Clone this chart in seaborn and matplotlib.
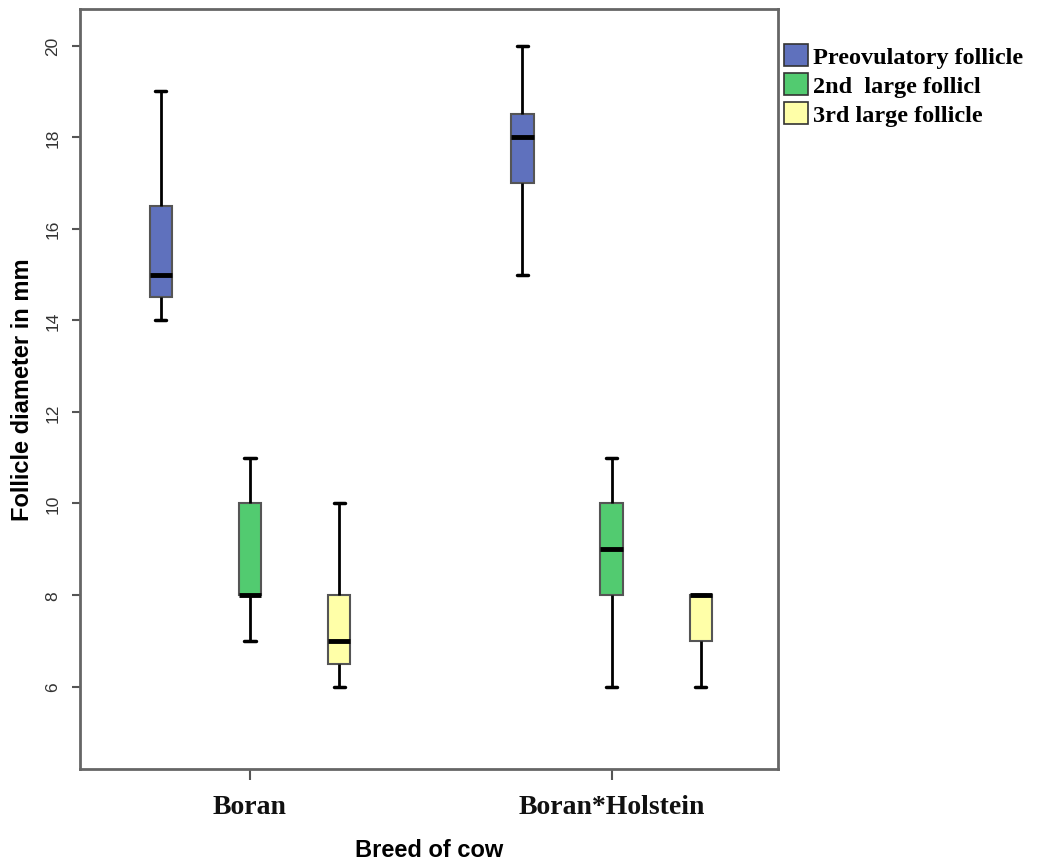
import matplotlib
matplotlib.use("Agg")
import matplotlib.pyplot as plt
import matplotlib.patches as mpatches
import pandas as pd
import seaborn as sns

# five-number values per box: min, q1, median, q3, max
breeds = ["Boran", "Boran*Holstein"]
follicles = ["Preovulatory follicle", "2nd  large follicl", "3rd large follicle"]
boran_pre = [14, 14.5, 15, 16.5, 19]
boran_2nd = [7, 8, 8, 10, 11]
boran_3rd = [6, 6.5, 7, 8, 10]
bh_pre = [15, 17, 18, 18.5, 20]
bh_2nd = [6, 8, 9, 10, 11]
bh_3rd = [6, 7, 8, 8, 8]
colors = ["#5f71bd", "#52cb70", "#ffffa8"]

rows = []
for breed, sets in zip(breeds, [[boran_pre, boran_2nd, boran_3rd], [bh_pre, bh_2nd, bh_3rd]]):
    for fol, vals in zip(follicles, sets):
        for v in vals:
            rows.append((breed, fol, v))
df = pd.DataFrame(rows, columns=["breed", "follicle", "diameter"])

sns.set_style("white")
fig = plt.figure(figsize=(10.38, 8.62), dpi=100)
ax = fig.add_axes([0.0771, 0.1067, 0.6724, 0.8817])

sns.boxplot(data=df, x="breed", y="diameter", hue="follicle", order=breeds,
            hue_order=follicles, palette=colors, whis=(0, 100), width=0.74,
            gap=0.75, saturation=1, legend=False, ax=ax,
            boxprops=dict(edgecolor="#555555", linewidth=1.5),
            whiskerprops=dict(color="black", linewidth=2),
            capprops=dict(color="black", linewidth=2.5),
            medianprops=dict(color="black", linewidth=3.5))

ax.set_xlim(-0.47, 1.46)
ax.set_ylim(4.2, 20.8)
ax.set_yticks(range(6, 21, 2))
ax.set_yticklabels([str(t) for t in range(6, 21, 2)], rotation=90, va="center",
                   family="Liberation Sans", fontsize=12.5, color="#333333")
ax.set_xticks([0, 1])
ax.set_xticklabels(breeds, family="Liberation Serif", fontweight="bold", fontsize=20,
                   color="#111111")
ax.tick_params(axis="y", length=6, width=1.5, color="#555555", pad=8, left=True)
ax.tick_params(axis="x", length=8, width=1.5, color="#555555", pad=10, bottom=True)
for s in ax.spines.values():
    s.set_color("#666666")
    s.set_linewidth(2)

ax.set_ylabel("Follicle diameter in mm", family="Liberation Sans", fontweight="bold",
              fontsize=17, labelpad=8, color="black")
ax.set_xlabel("Breed of cow", family="Liberation Sans", fontweight="bold",
              fontsize=17, labelpad=14, color="black")

handles = [mpatches.Patch(facecolor=c, edgecolor="#333333", linewidth=1.2) for c in colors]
fig.legend(handles, follicles, loc="upper left", bbox_to_anchor=(0.755, 0.948),
           frameon=False, labelcolor="black",
           prop=dict(family="Liberation Serif", weight="bold", size=17.5),
           handlelength=1.0, handleheight=1.0, handletextpad=0.2, labelspacing=0.2,
           borderaxespad=0, borderpad=0)

fig.savefig("out.png", dpi=100)
